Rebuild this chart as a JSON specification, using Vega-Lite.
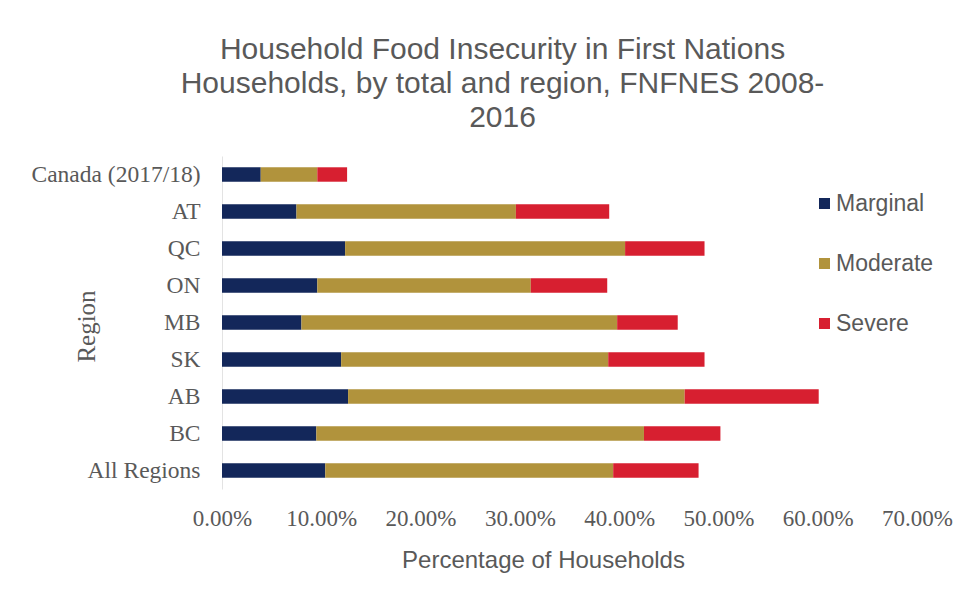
{
  "$schema": "https://vega.github.io/schema/vega-lite/v6.json",
  "width": 695,
  "height": 333,
  "autosize": {"type": "none"},
  "padding": {"left": 222, "top": 156, "right": 43, "bottom": 114},
  "background": "white",
  "title": {
    "text": ["Household Food Insecurity in First Nations", "Households, by total and region, FNFNES 2008-", "2016"],
    "anchor": "middle",
    "frame": "group",
    "baseline": "alphabetic",
    "font": "Liberation Sans",
    "fontSize": 30,
    "fontWeight": "normal",
    "lineHeight": 34,
    "color": "#595959",
    "dx": -67,
    "dy": 29,
    "offset": 28
  },
  "data": {
    "values": [
      {"region": "Canada (2017/18)", "level": "Marginal", "o": 1, "value": 0.039},
      {"region": "Canada (2017/18)", "level": "Moderate", "o": 2, "value": 0.057},
      {"region": "Canada (2017/18)", "level": "Severe", "o": 3, "value": 0.030},
      {"region": "AT", "level": "Marginal", "o": 1, "value": 0.075},
      {"region": "AT", "level": "Moderate", "o": 2, "value": 0.221},
      {"region": "AT", "level": "Severe", "o": 3, "value": 0.094},
      {"region": "QC", "level": "Marginal", "o": 1, "value": 0.124},
      {"region": "QC", "level": "Moderate", "o": 2, "value": 0.282},
      {"region": "QC", "level": "Severe", "o": 3, "value": 0.080},
      {"region": "ON", "level": "Marginal", "o": 1, "value": 0.096},
      {"region": "ON", "level": "Moderate", "o": 2, "value": 0.215},
      {"region": "ON", "level": "Severe", "o": 3, "value": 0.077},
      {"region": "MB", "level": "Marginal", "o": 1, "value": 0.080},
      {"region": "MB", "level": "Moderate", "o": 2, "value": 0.318},
      {"region": "MB", "level": "Severe", "o": 3, "value": 0.061},
      {"region": "SK", "level": "Marginal", "o": 1, "value": 0.120},
      {"region": "SK", "level": "Moderate", "o": 2, "value": 0.269},
      {"region": "SK", "level": "Severe", "o": 3, "value": 0.097},
      {"region": "AB", "level": "Marginal", "o": 1, "value": 0.127},
      {"region": "AB", "level": "Moderate", "o": 2, "value": 0.339},
      {"region": "AB", "level": "Severe", "o": 3, "value": 0.135},
      {"region": "BC", "level": "Marginal", "o": 1, "value": 0.095},
      {"region": "BC", "level": "Moderate", "o": 2, "value": 0.330},
      {"region": "BC", "level": "Severe", "o": 3, "value": 0.077},
      {"region": "All Regions", "level": "Marginal", "o": 1, "value": 0.104},
      {"region": "All Regions", "level": "Moderate", "o": 2, "value": 0.290},
      {"region": "All Regions", "level": "Severe", "o": 3, "value": 0.086}
    ]
  },
  "mark": {"type": "bar"},
  "encoding": {
    "y": {
      "field": "region",
      "type": "nominal",
      "sort": ["Canada (2017/18)", "AT", "QC", "ON", "MB", "SK", "AB", "BC", "All Regions"],
      "scale": {"paddingInner": 0.61, "paddingOuter": 0.305},
      "axis": {
        "title": "Region",
        "titleFont": "Liberation Serif",
        "titleFontSize": 25,
        "titleFontWeight": "normal",
        "titleColor": "#595959",
        "titleX": -136,
        "titleY": 170,
        "titleAngle": -90,
        "titleAlign": "center",
        "titleBaseline": "middle",
        "labelFont": "Liberation Serif",
        "labelFontSize": 23.5,
        "labelColor": "#595959",
        "labelPadding": 22,
        "ticks": false,
        "domain": true,
        "domainColor": "#e3e3e3",
        "grid": false
      }
    },
    "x": {
      "field": "value",
      "type": "quantitative",
      "stack": "zero",
      "scale": {"domain": [0, 0.7], "nice": false},
      "axis": {
        "title": "Percentage of Households",
        "titleFont": "Liberation Sans",
        "titleFontSize": 24,
        "titleFontWeight": "normal",
        "titleColor": "#595959",
        "titleX": 321,
        "titleY": 78,
        "titleAlign": "center",
        "titleBaseline": "alphabetic",
        "values": [0, 0.1, 0.2, 0.3, 0.4, 0.5, 0.6, 0.7],
        "format": ".2%",
        "labelFont": "Liberation Serif",
        "labelFontSize": 23,
        "labelColor": "#595959",
        "labelPadding": 18,
        "labelFlush": false,
        "labelOverlap": false,
        "ticks": false,
        "domain": false,
        "grid": false
      }
    },
    "color": {
      "field": "level",
      "type": "nominal",
      "scale": {"domain": ["Marginal", "Moderate", "Severe"], "range": ["#13275a", "#b1933c", "#d71f30"]},
      "legend": {
        "title": null,
        "orient": "none",
        "legendX": 591,
        "legendY": 36,
        "symbolType": "square",
        "symbolSize": 121,
        "symbolStrokeWidth": 0,
        "labelFont": "Liberation Sans",
        "labelFontSize": 23,
        "labelColor": "#595959",
        "labelOffset": 0,
        "rowPadding": 36
      }
    },
    "order": {"field": "o", "type": "quantitative"}
  },
  "config": {
    "view": {"stroke": null}
  }
}
